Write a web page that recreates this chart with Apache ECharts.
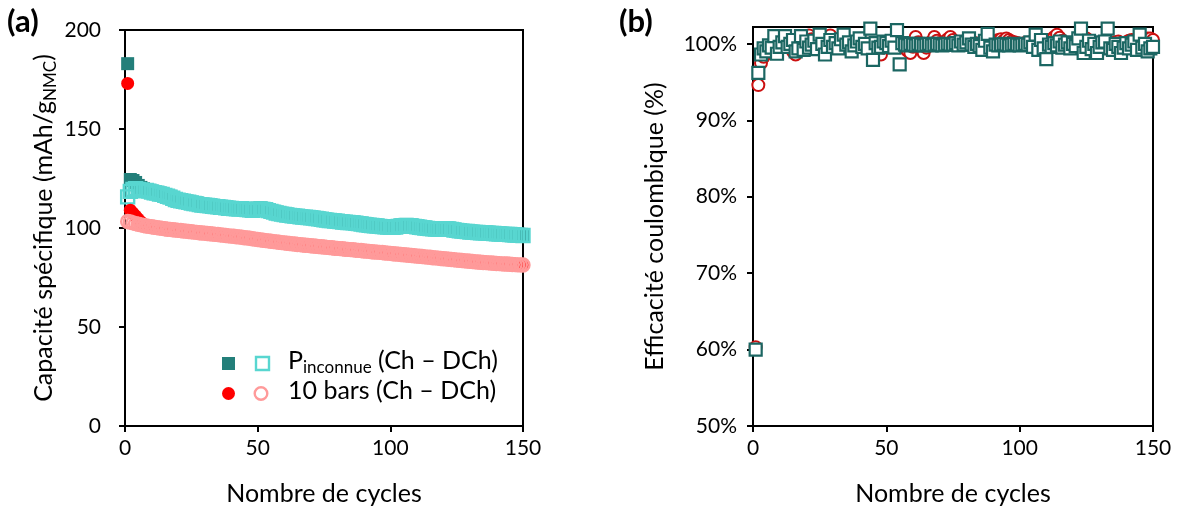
<!DOCTYPE html>
<html><head><meta charset="utf-8">
<script src="https://cdn.jsdelivr.net/npm/echarts@6/dist/echarts.min.js"></script>
<style>html,body{margin:0;padding:0;background:#fff}#c{width:1178px;height:515px}</style>
</head><body><div id="c"></div>
<script>
const cycles = [1,2,3,4,5,6,7,8,9,10,11,12,13,14,15,16,17,18,19,20,21,22,23,24,25,26,27,28,29,30,31,32,33,34,35,36,37,38,39,40,41,42,43,44,45,46,47,48,49,50,51,52,53,54,55,56,57,58,59,60,61,62,63,64,65,66,67,68,69,70,71,72,73,74,75,76,77,78,79,80,81,82,83,84,85,86,87,88,89,90,91,92,93,94,95,96,97,98,99,100,101,102,103,104,105,106,107,108,109,110,111,112,113,114,115,116,117,118,119,120,121,122,123,124,125,126,127,128,129,130,131,132,133,134,135,136,137,138,139,140,141,142,143,144,145,146,147,148,149,150];

// Capacité spécifique (mAh/g) - P inconnue, charge (filled)
const capChP = [183.0,124.5,124.0,123.0,121.5,120.5,119.8,119.4,119.0,118.6,
118.2,118.0,117.6,117.4,116.9,116.4,116.0,115.4,114.8,114.4,
114.2,113.9,113.6,113.4,113.0,112.8,112.6,112.2,112.0,111.9,
111.8,111.6,111.4,111.2,111.1,110.9,110.8,110.6,110.4,110.3,
110.2,110.1,110.0,110.3,109.9,109.7,109.6,109.4,109.8,110.0,
110.1,109.9,109.6,109.2,108.8,108.4,108.0,107.7,107.4,107.2,
107.0,106.8,106.6,106.4,106.3,106.1,105.9,105.8,105.7,105.6,
105.4,105.2,105.0,104.8,104.6,104.4,104.2,104.1,103.9,103.8,
103.6,103.4,103.3,103.2,103.1,103.0,102.8,102.6,102.4,102.2,
102.0,101.8,101.7,101.5,101.4,101.2,101.1,101.0,100.9,100.8,
100.8,100.9,101.2,101.5,101.7,101.8,101.7,101.5,101.2,101.0,
100.8,100.6,100.4,100.2,100.1,100.0,99.9,99.8,100.0,100.2,
100.1,99.9,99.7,99.4,99.2,99.0,98.8,98.7,98.6,98.4,
98.3,98.2,98.1,98.0,98.0,97.9,97.8,97.7,97.6,97.5,
97.4,97.3,97.2,97.2,97.1,97.0,96.9,96.8,96.7,96.6];

// P inconnue, décharge (hollow)
const capDchP = [115.7,118.5,119.5,119.8,119.5,119.2,118.8,119.0,118.6,118.2,
117.8,117.6,117.2,117.0,116.5,116.0,115.6,115.0,114.4,114.0,
113.8,113.5,113.2,113.0,112.6,112.4,112.2,111.8,111.6,111.5,
111.4,111.2,111.0,110.8,110.7,110.5,110.4,110.2,110.0,109.9,
109.8,109.7,109.6,109.8,109.5,109.3,109.2,109.0,109.3,109.5,
109.6,109.4,109.2,108.8,108.4,108.0,107.6,107.3,107.0,106.8,
106.6,106.4,106.2,106.0,105.9,105.7,105.5,105.4,105.3,105.2,
105.0,104.8,104.6,104.4,104.2,104.0,103.8,103.7,103.5,103.4,
103.2,103.0,102.9,102.8,102.7,102.6,102.4,102.2,102.0,101.8,
101.6,101.4,101.3,101.1,101.0,100.8,100.7,100.6,100.5,100.4,
100.4,100.5,100.8,101.0,101.2,101.3,101.2,101.0,100.8,100.6,
100.4,100.2,100.0,99.8,99.7,99.6,99.5,99.4,99.5,99.6,
99.6,99.5,99.3,99.0,98.8,98.6,98.4,98.3,98.2,98.0,
97.9,97.8,97.7,97.6,97.6,97.5,97.4,97.3,97.2,97.1,
97.0,96.9,96.8,96.8,96.7,96.6,96.5,96.4,96.3,96.2];

// 10 bars, charge (filled)
const capCh10 = [173.0,109.0,107.5,106.0,104.5,103.0,102.0,101.3,101.0,100.8,
100.6,100.4,100.2,100.0,99.8,99.6,99.5,99.3,99.2,99.0,
98.9,98.7,98.6,98.4,98.3,98.1,98.0,97.8,97.7,97.6,
97.4,97.3,97.2,97.0,96.9,96.7,96.6,96.4,96.2,96.1,
96.0,95.8,95.7,95.5,95.3,95.2,95.0,94.8,94.6,94.4,
94.2,94.0,93.8,93.7,93.5,93.3,93.2,93.0,92.8,92.7,
92.5,92.4,92.2,92.1,91.9,91.8,91.6,91.5,91.4,91.2,
91.1,91.0,90.8,90.7,90.6,90.4,90.3,90.2,90.0,89.9,
89.8,89.7,89.5,89.4,89.3,89.2,89.0,88.9,88.8,88.6,
88.5,88.4,88.2,88.1,88.0,87.9,87.8,87.6,87.5,87.4,
87.2,87.1,87.0,86.8,86.7,86.6,86.4,86.3,86.2,86.0,
85.9,85.8,85.6,85.5,85.4,85.2,85.1,85.0,84.8,84.7,
84.6,84.4,84.3,84.2,84.0,83.9,83.8,83.6,83.5,83.4,
83.3,83.1,83.0,82.9,82.8,82.7,82.6,82.5,82.4,82.3,
82.2,82.1,82.0,82.0,81.9,81.8,81.7,81.6,81.6,81.5];

// 10 bars, décharge (hollow)
const capDch10 = [103.3,103.0,102.6,102.2,101.9,101.6,101.3,101.0,100.8,100.6,
100.4,100.2,100.0,99.8,99.6,99.4,99.3,99.1,99.0,98.8,
98.7,98.5,98.4,98.2,98.1,97.9,97.8,97.6,97.5,97.4,
97.2,97.1,97.0,96.8,96.7,96.5,96.4,96.2,96.0,95.9,
95.8,95.6,95.5,95.3,95.1,95.0,94.8,94.6,94.4,94.2,
94.0,93.8,93.6,93.5,93.3,93.1,93.0,92.8,92.6,92.5,
92.3,92.2,92.0,91.9,91.7,91.6,91.4,91.3,91.2,91.0,
90.9,90.8,90.6,90.5,90.4,90.2,90.1,90.0,89.8,89.7,
89.6,89.5,89.3,89.2,89.1,89.0,88.8,88.7,88.6,88.4,
88.3,88.2,88.0,87.9,87.8,87.7,87.6,87.4,87.3,87.2,
87.0,86.9,86.8,86.6,86.5,86.4,86.2,86.1,86.0,85.8,
85.7,85.6,85.4,85.3,85.2,85.0,84.9,84.8,84.6,84.5,
84.4,84.2,84.1,84.0,83.8,83.7,83.6,83.4,83.3,83.2,
83.1,82.9,82.8,82.7,82.6,82.5,82.4,82.3,82.2,82.1,
82.0,81.9,81.8,81.8,81.7,81.6,81.5,81.4,81.4,81.3];

// Efficacité coulombique (%) - P inconnue (squares)
const effP = [60.0,96.2,98.6,99.4,99.0,99.8,99.5,101.0,98.7,99.6,
100.2,101.0,99.6,100.0,100.5,99.0,99.4,101.0,99.2,100.3,
99.5,99.9,100.4,99.3,101.2,100.0,98.6,99.6,100.5,99.6,
100.1,99.4,100.6,101.2,99.9,100.2,99.0,99.8,100.3,100.7,
99.6,100.0,99.4,102.0,97.9,100.1,99.5,99.6,100.3,100.1,
99.7,100.4,99.5,101.8,97.3,100.1,99.9,99.8,100.0,99.9,
99.8,100.0,99.9,99.8,99.9,100.0,99.8,99.9,100.0,99.9,
99.8,99.9,100.0,99.9,99.9,100.1,99.8,100.3,99.9,100.2,
100.7,99.9,99.6,100.0,99.7,99.2,100.4,101.3,99.5,99.0,
99.9,99.8,99.9,100.0,99.9,99.8,99.9,100.0,99.9,99.8,
99.9,100.0,99.9,100.2,99.6,101.2,99.2,100.5,99.4,98.0,
99.9,99.6,100.1,99.8,100.3,99.5,99.9,100.2,99.4,100.0,
99.7,100.7,102.0,98.8,99.6,100.4,99.3,100.0,98.8,99.6,
100.2,100.3,102.0,99.4,99.2,100.0,99.6,98.8,99.5,100.1,
99.4,99.9,100.3,99.2,101.2,99.5,100.0,99.0,99.4,99.6];

// 10 bars (circles)
const eff10 = [60.3,94.6,97.5,98.3,98.8,99.2,99.0,99.5,99.8,99.4,
99.6,99.8,99.7,99.5,99.0,98.6,99.3,99.6,100.0,100.4,
101.1,100.6,99.8,100.0,100.3,100.5,100.8,100.4,101.1,100.2,
99.8,99.6,100.0,99.7,99.9,100.1,99.8,100.0,99.7,100.2,
99.9,99.6,100.0,99.8,99.4,99.2,98.9,98.6,99.5,99.8,
100.0,99.7,99.9,100.1,99.8,99.6,99.4,99.1,98.8,99.6,
100.9,100.2,99.4,98.8,99.5,99.9,100.3,100.9,100.4,100.1,
100.0,100.3,100.6,100.9,100.5,100.2,100.0,100.1,100.3,100.2,
100.0,99.9,100.1,100.0,99.9,100.1,100.2,100.0,99.9,100.1,
100.3,100.5,100.6,100.4,100.7,100.5,100.3,100.2,100.1,100.0,
99.9,100.1,100.0,100.2,100.0,99.9,100.1,100.3,100.0,99.8,
100.2,100.6,100.9,101.2,100.8,100.4,100.1,100.0,99.9,100.1,
100.3,100.4,100.6,100.5,100.7,100.3,100.1,100.0,99.9,100.1,
100.2,100.0,99.9,100.1,100.0,100.2,100.3,100.1,100.0,100.2,
100.4,100.5,100.3,100.2,100.4,100.5,100.6,100.7,100.7,100.5];

const xTicks = [0, 50, 100, 150];
const capTicks = [0, 50, 100, 150, 200];
const effTicks = [50, 60, 70, 80, 90, 100];

const FONT = 'Lato';
const TEAL = '#237F7A', CYAN = '#58D6D0', RED = '#FF0000', PINK = '#FF9A9A';
const SQ_BORDER = '#1B6662', CIRC_BORDER = '#CC1010';

const pairs = arr => cycles.map((c, i) => [c, arr[i]]);

const axisCommon = {
  axisLine: {onZero: false, lineStyle: {color: '#000', width: 2}},
  axisTick: {length: 6, lineStyle: {color: '#000', width: 2}},
  splitLine: {show: false}
};
const labelStyle = {fontFamily: FONT, fontSize: 21, color: '#000'};
const nameStyle = {fontFamily: FONT, fontSize: 25, color: '#000'};

const chart = echarts.init(document.getElementById('c'), null, {renderer: 'canvas'});
chart.setOption({
  animation: false,
  backgroundColor: '#fff',
  textStyle: {fontFamily: FONT},
  grid: [
    {left: 125, right: 655, top: 30, bottom: 89, show: true, borderColor: '#000', borderWidth: 2},
    {left: 753, right: 25, top: 27, bottom: 89, show: true, borderColor: '#000', borderWidth: 2}
  ],
  xAxis: [0, 1].map(g => Object.assign({}, axisCommon, {
    gridIndex: g, type: 'value', min: xTicks[0], max: xTicks[xTicks.length - 1], interval: 50,
    axisLabel: Object.assign({margin: 12}, labelStyle),
    name: 'Nombre de cycles', nameLocation: 'middle', nameGap: 55, nameTextStyle: nameStyle
  })),
  yAxis: [
    Object.assign({}, axisCommon, {
      gridIndex: 0, type: 'value', min: capTicks[0], max: capTicks[capTicks.length - 1], interval: 50,
      axisLabel: Object.assign({margin: 24}, labelStyle),
      name: '{n|Capacité spécifique (mAh/g}{s|NMC}{n|)}', nameLocation: 'middle', nameGap: 66,
      nameTextStyle: {color: '#000', rich: {
        n: {fontFamily: FONT, fontSize: 25, color: '#000', lineHeight: 30},
        s: {fontFamily: FONT, fontSize: 17, color: '#000', lineHeight: 17, padding: [13, 0, 0, 0]}
      }}
    }),
    Object.assign({}, axisCommon, {
      gridIndex: 1, type: 'value', min: 50, max: 102.2, interval: 10,
      axisTick: {length: 6, lineStyle: {color: '#000', width: 2}, customValues: effTicks},
      axisLabel: Object.assign({margin: 16, customValues: effTicks, formatter: v => v + '%'}, labelStyle),
      name: 'Efficacité coulombique (%)', nameLocation: 'middle', nameGap: 86, nameTextStyle: nameStyle
    })
  ],
  series: [
    {type: 'scatter', name: 'P charge', xAxisIndex: 0, yAxisIndex: 0, data: pairs(capChP),
     symbol: 'rect', symbolSize: 13, itemStyle: {color: TEAL, opacity: 1}},
    {type: 'scatter', name: 'P décharge', xAxisIndex: 0, yAxisIndex: 0, data: pairs(capDchP),
     symbol: 'rect', symbolSize: 13, itemStyle: {color: 'rgba(0,0,0,0)', borderColor: CYAN, borderWidth: 2.4, opacity: 1}},
    {type: 'scatter', name: '10 bars charge', xAxisIndex: 0, yAxisIndex: 0, data: pairs(capCh10),
     symbol: 'circle', symbolSize: 13, itemStyle: {color: RED, opacity: 1}},
    {type: 'scatter', name: '10 bars décharge', xAxisIndex: 0, yAxisIndex: 0, data: pairs(capDch10),
     symbol: 'circle', symbolSize: 13, itemStyle: {color: 'rgba(0,0,0,0)', borderColor: PINK, borderWidth: 2.4, opacity: 1}},
    {type: 'scatter', name: 'EC 10 bars', xAxisIndex: 1, yAxisIndex: 1, data: pairs(eff10),
     symbol: 'circle', symbolSize: 12, itemStyle: {color: '#fff', borderColor: CIRC_BORDER, borderWidth: 2, opacity: 1}},
    {type: 'scatter', name: 'EC P', xAxisIndex: 1, yAxisIndex: 1, data: pairs(effP),
     symbol: 'rect', symbolSize: 12, itemStyle: {color: '#fff', borderColor: SQ_BORDER, borderWidth: 2.2, opacity: 1}}
  ],
  graphic: [
    {type: 'text', left: 7, top: 6, style: {text: '(a)', font: 'bold 31px ' + FONT, fill: '#000'}},
    {type: 'text', left: 619, top: 6, style: {text: '(b)', font: 'bold 31px ' + FONT, fill: '#000'}},
    {type: 'rect', shape: {x: 222, y: 357, width: 13, height: 13}, style: {fill: TEAL}},
    {type: 'rect', shape: {x: 256, y: 357, width: 13, height: 13}, style: {fill: 'none', stroke: CYAN, lineWidth: 2.4}},
    {type: 'circle', shape: {cx: 228.5, cy: 393.5, r: 6.5}, style: {fill: RED}},
    {type: 'circle', shape: {cx: 261, cy: 393.5, r: 6.3}, style: {fill: 'none', stroke: PINK, lineWidth: 2.4}},
    {type: 'text', left: 288, top: 346, style: {
      text: '{n|P}{s|inconnue}{n| (Ch – DCh)}',
      rich: {
        n: {fontFamily: FONT, fontSize: 25, fill: '#000', lineHeight: 30},
        s: {fontFamily: FONT, fontSize: 17, fill: '#000', lineHeight: 17, padding: [13, 0, 0, 0]}
      }}},
    {type: 'text', left: 288, top: 378, style: {text: '10 bars (Ch – DCh)', font: '25px ' + FONT, fill: '#000'}}
  ]
});
</script></body></html>
